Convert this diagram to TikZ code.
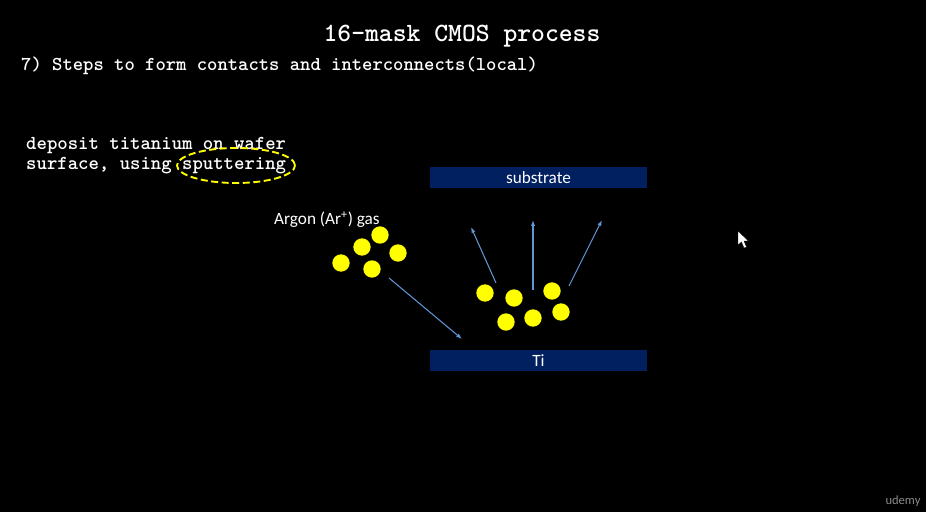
\documentclass[tikz,border=0pt]{standalone}
\usepackage{fontspec}
\setmainfont{Carlito}
\usetikzlibrary{shapes.geometric,arrows.meta}

\definecolor{slidenavy}{RGB}{0,32,96}
\definecolor{flightblue}{RGB}{96,150,212}
\definecolor{atomyellow}{RGB}{255,255,0}

\tikzset{
  atom/.style={circle, fill=atomyellow, minimum size=0.52cm, inner sep=0pt},
  plate/.style={rectangle, fill=slidenavy, text=white, minimum width=6.51cm,
    minimum height=0.63cm, inner sep=0pt, font=\fontsize{14.7}{16}\selectfont},
  flight/.style={draw=flightblue, line width=0.9pt, -{Latex[length=5pt,width=3.6pt]}},
  codetext/.style={text=white, inner sep=0pt, font=\ttfamily\bfseries\fontsize{16.9}{18}\selectfont}
}

\begin{document}
\begin{tikzpicture}[x=0.03cm, y=-0.03cm]

  \fill[black] (0,0) rectangle (926,512);
  \useasboundingbox (0,0) rectangle (926,512);

  \node[codetext, font=\ttfamily\bfseries\fontsize{22.5}{24}\selectfont, anchor=base] (title) at (462,42) {16-mask CMOS process};
  \node[codetext, font=\ttfamily\bfseries\fontsize{16.8}{18}\selectfont, anchor=base west] (step) at (21,71) {7) Steps to form contacts and interconnects(local)};

  \node[codetext, anchor=base west] (dep1) at (26,149.5) {deposit titanium on wafer};
  \node[codetext, anchor=base west] (dep2) at (26,169.5) {surface, using sputtering};
  \node[ellipse, draw=atomyellow, dashed, line width=1.6pt, dash pattern=on 6pt off 3pt,
    minimum width=3.54cm, minimum height=1.05cm] (sputring) at (236,165.5) {};

  \node[plate] (sub) at (538.5,177.5) {substrate};
  \node[plate] (ti) at (538.5,360.5) {Ti};

  \node[text=white, font=\fontsize{14.7}{16}\selectfont, inner sep=0pt, anchor=base west] (argon) at (274,225) {Argon (Ar\textsuperscript{+}) gas};

  \node[atom] (a1) at (341,263) {};
  \node[atom] (a2) at (362,247) {};
  \node[atom] (a3) at (380,235) {};
  \node[atom] (a4) at (398,253) {};
  \node[atom] (a5) at (372,269) {};

  \node[atom] (b1) at (485,293) {};
  \node[atom] (b2) at (514,298) {};
  \node[atom] (b3) at (552,291) {};
  \node[atom] (b4) at (506,322) {};
  \node[atom] (b5) at (533,318) {};
  \node[atom] (b6) at (561,312) {};

  \coordinate (hitS) at (389,278);
  \coordinate (hitE) at (462,339);
  \coordinate (up1S) at (496,283);
  \coordinate (up1E) at (471,227);
  \coordinate (up2S) at (533,290);
  \coordinate (up2E) at (533,220);
  \coordinate (up3S) at (569,286);
  \coordinate (up3E) at (602,220);

  \draw[flight] (hitS) -- (hitE);
  \draw[flight] (up1S) -- (up1E);
  \draw[flight] (up2S) -- (up2E);
  \draw[flight] (up3S) -- (up3E);

  \fill[white, draw=black, line width=0.3pt] (738,231) -- (738,245) -- (741.5,242) -- (744,248) -- (746.5,247) -- (744,241) -- (748.5,241) -- cycle;

  \node[text=black!45, font=\fontsize{10.7}{12}\selectfont, inner sep=0pt] (udemy) at (903,501) {udemy};

\end{tikzpicture}
\end{document}
